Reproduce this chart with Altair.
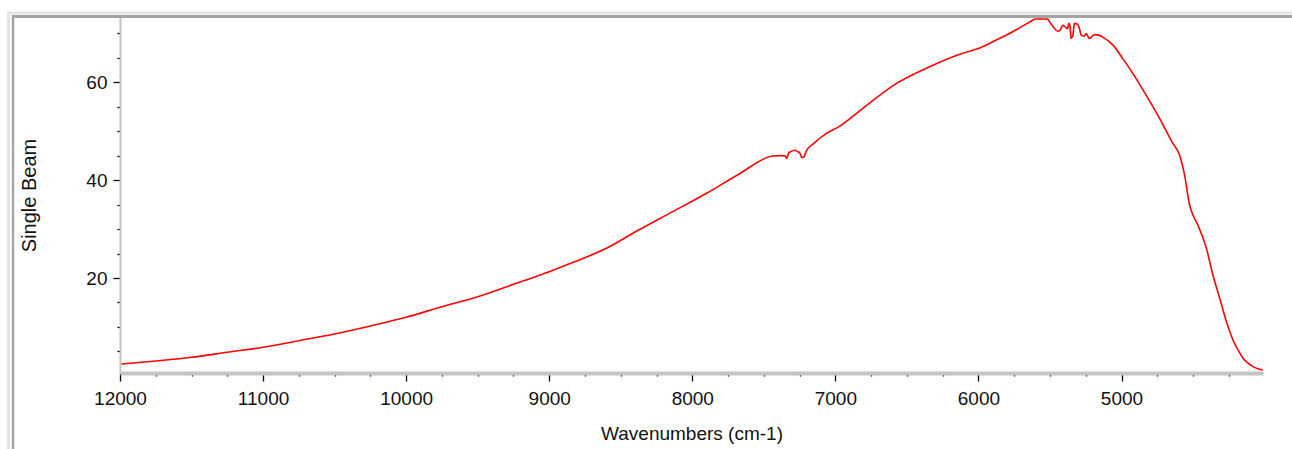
import altair as alt
import pandas as pd

# Wavenumber (cm-1) and Single Beam intensity
wavenumbers = [
    11990, 11750, 11500, 11250, 11000, 10750, 10500, 10250, 10000, 9750,
    9500, 9250, 9000, 8850, 8600, 8375, 8140, 7900, 7675, 7440,
    7380, 7350, 7340, 7325, 7280, 7265, 7250, 7235, 7220, 7205,
    7150, 7065, 6980, 6810, 6575, 6345, 6110, 5995, 5875, 5760,
    5645, 5600, 5520, 5490, 5445, 5430, 5410, 5390, 5376, 5369,
    5360, 5352, 5340, 5329, 5306, 5290, 5282, 5260, 5247, 5224,
    5210, 5189, 5160, 5131, 5061, 4991, 4921, 4827, 4734, 4641,
    4594, 4559, 4524, 4495, 4466, 4407, 4361, 4314, 4267, 4221,
    4180, 4151, 4115, 4081, 4040, 4011,
]
single_beam = [
    2.45, 3.06, 3.8, 4.84, 5.86, 7.2, 8.57, 10.2, 11.98, 14.14,
    16.18, 18.71, 21.3, 23.0, 26.06, 29.8, 33.5, 37.3, 41.2, 44.9,
    45.0, 44.9, 44.4, 45.6, 46.1, 45.8, 45.6, 44.6, 44.7, 45.8,
    47.5, 49.5, 50.8, 54.6, 59.7, 63.1, 65.9, 66.9, 68.6, 70.3,
    72.2, 72.9, 72.9, 71.8, 70.4, 70.6, 71.6, 71.2, 70.9, 72.0,
    71.5, 68.9, 69.5, 72.0, 71.8, 70.5, 69.6, 69.4, 69.9, 68.9,
    69.2, 69.7, 69.6, 69.2, 67.6, 64.8, 61.8, 57.3, 52.6, 47.5,
    45.1, 41.0, 34.9, 32.5, 30.8, 26.1, 20.6, 15.9, 11.1, 7.35,
    5.0, 3.6, 2.6, 1.9, 1.4, 1.2,
]

x_tick_values = list(range(4250, 12001, 250))
y_tick_values = list(range(5, 71, 5))
x_domain = [12000, 4011]
y_domain = [0.6, 73.3]

df = pd.DataFrame({"wn": wavenumbers, "sb": single_beam})

FONT = "Liberation Sans, Arial, sans-serif"
AXIS_GRAY = "#c4c4c4"

line = alt.Chart(df).mark_line(
    color="#ff0000", strokeWidth=1.6, clip=True, interpolate="monotone"
).encode(
    x=alt.X(
        "wn:Q",
        scale=alt.Scale(domain=x_domain, nice=False, zero=False),
        axis=alt.Axis(
            title="Wavenumbers (cm-1)",
            values=x_tick_values,
            labelExpr="datum.value % 1000 == 0 ? datum.value : ''",
            grid=False,
            domainColor=AXIS_GRAY,
            domainWidth=4,
            tickColor="#000000",
            tickWidth=1.3,
            tickSize=alt.condition("datum.value % 1000 == 0", alt.value(8), alt.value(3)),
            labelFont=FONT,
            labelFontSize=19,
            labelColor="#111111",
            labelPadding=8,
            labelFlush=False,
            labelOverlap=False,
            titleFont=FONT,
            titleFontSize=19,
            titleFontWeight="normal",
            titleColor="#111111",
            titleBaseline="top",
            titleY=51,
        ),
    ),
    y=alt.Y(
        "sb:Q",
        scale=alt.Scale(domain=y_domain, nice=False, zero=False),
        axis=alt.Axis(
            title="Single Beam",
            values=y_tick_values,
            labelExpr="datum.value % 20 == 0 ? datum.value : ''",
            grid=False,
            domainColor=AXIS_GRAY,
            domainWidth=2,
            tickColor="#000000",
            tickWidth=1.3,
            tickSize=alt.condition("datum.value % 20 == 0", alt.value(7), alt.value(3)),
            labelFont=FONT,
            labelFontSize=19,
            labelColor="#111111",
            labelPadding=6,
            labelFlush=False,
            labelOverlap=False,
            titleFont=FONT,
            titleFontSize=20,
            titleFontWeight="normal",
            titleColor="#111111",
            titleAngle=-90,
            titleAlign="center",
            titleBaseline="alphabetic",
            titleX=-85,
            titleY=178,
        ),
    ),
)

# window frame (light + dark gray bevel lines on top and left)
frame_dark_top = alt.Chart().mark_rule(color="#a3a3a3", strokeWidth=3).encode(
    x=alt.value(-108), x2=alt.value(1172), y=alt.value(-0.5)
)
frame_light_top = alt.Chart().mark_rule(color="#e4e4e4", strokeWidth=3).encode(
    x=alt.value(-112), x2=alt.value(1172), y=alt.value(-4)
)
frame_dark_left = alt.Chart().mark_rule(color="#a3a3a3", strokeWidth=2.5).encode(
    x=alt.value(-107), y=alt.value(-2), y2=alt.value(432)
)
frame_light_left = alt.Chart().mark_rule(color="#e4e4e4", strokeWidth=3).encode(
    x=alt.value(-111.5), y=alt.value(-5.5), y2=alt.value(432)
)

chart = alt.layer(
    frame_light_top, frame_light_left, frame_dark_top, frame_dark_left, line
).properties(
    width=1143,
    height=356,
    autosize=alt.AutoSizeParams(type="none"),
    padding={"left": 120, "top": 17, "right": 29, "bottom": 76},
    background="#ffffff",
).configure_view(stroke=None)

chart.save("out.html", embed_options={"renderer": "svg", "actions": False})
